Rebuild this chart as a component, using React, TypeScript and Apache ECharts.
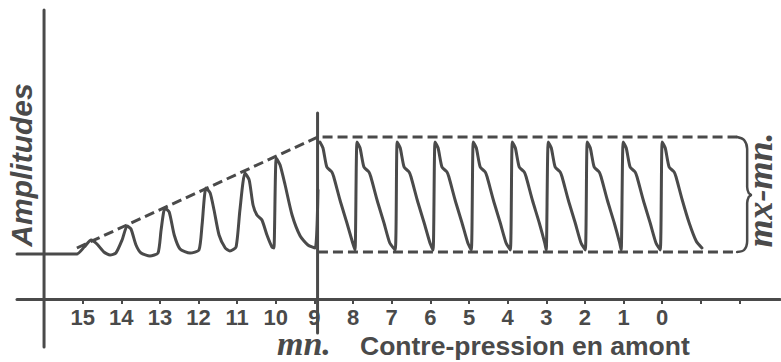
import React, { useEffect, useRef } from "react";
import * as echarts from "echarts";

const INK = "#4a4a4a";

// Contre-pression (mm) tick labels, and unlabelled ticks past 0
const pressureLabels = [15, 14, 13, 12, 11, 10, 9, 8, 7, 6, 5, 4, 3, 2, 1, 0];
const tickValues = [15, 14, 13, 12, 11, 10, 9, 8, 7, 6, 5, 4, 3, 2, 1, 0, -1, -2];

// pulse trace: [contre-pression, amplitude]
const rampTrace = [
  [16.7, 45], [15.15, 45], [14.96, 52], [14.78, 59], [14.63, 55], [14.45, 47], [14.29, 44], [14.14, 46],
  [13.98, 59], [13.85, 73], [13.75, 70], [13.62, 54], [13.49, 46], [13.26, 43], [13.05, 46],
  [12.97, 69], [12.87, 91], [12.76, 87], [12.63, 64], [12.48, 50], [12.22, 46], [11.99, 49],
  [11.91, 74], [11.81, 111], [11.7, 106], [11.6, 89], [11.47, 64], [11.31, 51], [11.19, 48], [11.03, 52],
  [10.93, 89], [10.8, 126], [10.69, 119], [10.59, 94], [10.49, 84], [10.36, 79], [10.23, 64], [10.1, 52], [10.05, 51],
  [9.99, 141], [9.89, 134], [9.76, 114], [9.58, 84], [9.37, 63], [9.17, 54], [8.98, 51], [8.91, 109],
];
const plateauTrace = [
  [8.86, 157], [8.78, 151], [8.68, 132], [8.55, 127], [8.5, 122], [8.34, 99], [8.16, 76], [8.01, 56], [7.95, 49],
  [7.9, 157], [7.82, 151], [7.72, 132], [7.59, 127], [7.54, 122], [7.38, 99], [7.2, 76], [7.05, 56], [6.91, 49],
  [6.86, 157], [6.78, 151], [6.68, 132], [6.55, 127], [6.5, 122], [6.34, 99], [6.16, 76], [6.01, 56], [5.93, 49],
  [5.88, 157], [5.8, 151], [5.7, 132], [5.57, 127], [5.52, 122], [5.36, 99], [5.18, 76], [5.03, 56], [4.94, 49],
  [4.89, 157], [4.81, 151], [4.71, 132], [4.58, 127], [4.53, 122], [4.37, 99], [4.19, 76], [4.04, 56], [3.93, 49],
  [3.88, 157], [3.8, 151], [3.7, 132], [3.57, 127], [3.52, 122], [3.36, 99], [3.18, 76], [3.04, 56], [3.0, 49],
  [2.95, 157], [2.87, 151], [2.77, 132], [2.64, 127], [2.59, 122], [2.43, 99], [2.25, 76], [2.1, 56], [1.99, 49],
  [1.94, 157], [1.86, 151], [1.76, 132], [1.63, 127], [1.58, 122], [1.42, 99], [1.24, 76], [1.1, 56], [1.06, 49],
  [1.01, 157], [0.93, 151], [0.83, 132], [0.7, 127], [0.65, 122], [0.49, 99], [0.31, 76], [0.16, 56], [0.05, 49],
  [0.0, 157], [-0.08, 151], [-0.18, 132], [-0.31, 127], [-0.36, 122], [-0.52, 99], [-0.7, 76], [-0.88, 58], [-1.03, 51],
];
const upperEnvelope = [[15.15, 51], [8.91, 162], [-1.94, 162]];
const lowerEnvelope = [[8.91, 47], [-1.94, 47]];
const brace = [
  [-1.94, 162], [-2.12, 159], [-2.2, 150], [-2.2, 112], [-2.24, 106], [-2.3, 104],
  [-2.24, 102], [-2.2, 96], [-2.2, 58], [-2.12, 49], [-1.94, 47],
];
const ordinateLine = [[16, 289], [16, -48]];
const marker9 = [[8.92, 186], [8.92, -34]];

export default function App() {
  const ref = useRef<HTMLDivElement>(null);
  useEffect(() => {
    if (!ref.current) return;
    const chart = echarts.init(ref.current, null, { renderer: "svg" });
    const solid = (data: number[][], w = 3, smooth = 0) => ({
      type: "line",
      data,
      symbol: "none",
      showSymbol: false,
      silent: true,
      clip: false,
      smooth,
      lineStyle: { color: INK, width: w, cap: "round", join: "round" },
    });
    const dashed = (data: number[][]) => ({
      type: "line",
      data,
      symbol: "none",
      showSymbol: false,
      silent: true,
      clip: false,
      lineStyle: { color: INK, width: 3, type: [10, 5] },
    });
    chart.setOption({
      animation: false,
      backgroundColor: "#ffffff",
      grid: { left: 17, right: 1, top: 10, bottom: 63, containLabel: false, outerBoundsMode: "none" },
      xAxis: {
        type: "value",
        inverse: true,
        min: -3.05,
        max: 16.7,
        axisLine: { onZero: false, lineStyle: { color: INK, width: 3 } },
        axisTick: { show: true, customValues: tickValues, length: 5, lineStyle: { color: INK, width: 2 } },
        axisLabel: {
          customValues: pressureLabels,
          margin: 7,
          color: INK,
          fontSize: 22,
          fontWeight: "bold",
          fontFamily: '"Liberation Sans", Arial, sans-serif',
        },
        splitLine: { show: false },
      },
      yAxis: { type: "value", min: 0, max: 289, show: false },
      series: [
        solid(ordinateLine),
        solid(marker9),
        dashed(upperEnvelope),
        dashed(lowerEnvelope),
        solid(brace, 2.5, 0.3),
        solid(rampTrace, 3, 0.2),
        solid(plateauTrace, 3, 0.2),
      ],
      graphic: [
        {
          type: "text",
          x: 21,
          y: 165,
          rotation: Math.PI / 2,
          style: {
            text: "Amplitudes",
            fill: INK,
            font: 'italic bold 30px "Liberation Sans", Arial, sans-serif',
            textAlign: "center",
            textVerticalAlign: "middle",
          },
        },
        {
          type: "text",
          x: 760,
          y: 190,
          rotation: Math.PI / 2,
          style: {
            text: "mx-mn.",
            fill: INK,
            font: 'italic bold 36px "Liberation Serif", serif',
            textAlign: "center",
            textVerticalAlign: "middle",
          },
        },
        {
          type: "text",
          x: 277,
          y: 343,
          style: {
            text: "mn.",
            fill: INK,
            font: 'italic bold 34px "Liberation Serif", serif',
            textAlign: "left",
            textVerticalAlign: "middle",
          },
        },
        {
          type: "text",
          x: 360,
          y: 346,
          style: {
            text: "Contre-pression en amont",
            fill: INK,
            font: 'bold 26.5px "Liberation Sans", Arial, sans-serif',
            textAlign: "left",
            textVerticalAlign: "middle",
          },
        },
      ],
    });
    return () => chart.dispose();
  }, []);
  return (
    <div
      ref={ref}
      style={{ position: "fixed", left: 0, top: 0, width: 781, height: 362, background: "#fff" }}
    />
  );
}
